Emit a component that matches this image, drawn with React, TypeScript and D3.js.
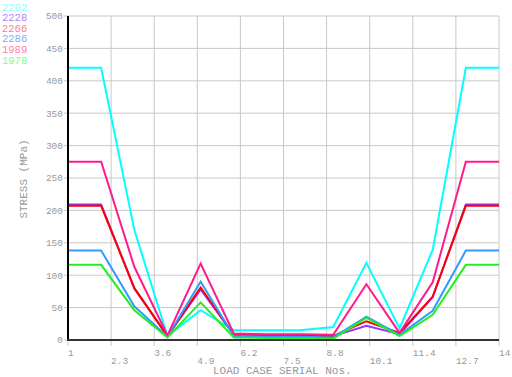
import React from "react";
import * as d3 from "d3";

const loadCases = [1, 2, 3, 4, 5, 6, 7, 8, 9, 10, 11, 12, 13, 14];
const xTicks = [1, 2.3, 3.6, 4.9, 6.2, 7.5, 8.8, 10.1, 11.4, 12.7, 14];
const yTicks = [0, 50, 100, 150, 200, 250, 300, 350, 400, 450, 500];

const s2202 = [420, 420, 170, 6, 46, 15, 15, 15, 20, 119, 18, 139, 420, 420];
const s2228 = [209, 209, 80, 6, 78, 8, 6, 6, 6, 22, 9, 66, 209, 209];
const s2266 = [207, 207, 80, 6, 81, 8, 6, 6, 6, 29, 11, 67, 207, 207];
const s2286 = [138, 138, 52, 5, 90, 6, 5, 5, 4, 36, 8, 45, 138, 138];
const s1989 = [275, 275, 113, 7, 118, 10, 9, 9, 8, 86, 11, 89, 275, 275];
const s1978 = [116, 116, 46, 4, 58, 4, 3, 3, 2, 34, 6, 39, 116, 116];

const seriesNames = ["2202", "2228", "2266", "2286", "1989", "1978"];
const seriesData = [s2202, s2228, s2266, s2286, s1989, s1978];
const lineColors = ["#00ffff", "#9933ff", "#ff0000", "#3399ff", "#ff1a8c", "#22ee22"];
const legendColors = ["#80ffff", "#b080ff", "#ff8080", "#80a8ff", "#ff80a8", "#80ff80"];
const drawOrder = [0, 1, 2, 3, 4, 5];

export default function App() {
  const W = 512, H = 377;
  const x = d3.scaleLinear().domain([1, 14]).range([68, 499]);
  const y = d3.scaleLinear().domain([0, 500]).range([340, 16]);
  const line = d3.line<number>().x((_, i) => x(loadCases[i])).y((d) => y(d));
  const mono = "'Liberation Mono', 'DejaVu Sans Mono', monospace";
  return (
    <svg width={W} height={H} style={{ position: "absolute", left: 0, top: 0 }}>
      <rect width={W} height={H} fill="#fff" />
      {yTicks.map((t) => (
        <line key={"gy" + t} x1={64} x2={499} y1={y(t)} y2={y(t)} stroke="#c8c8c8" strokeWidth={1} />
      ))}
      {xTicks.map((t) => (
        <line key={"gx" + t} x1={x(t)} x2={x(t)} y1={16} y2={346} stroke="#c8c8c8" strokeWidth={1} />
      ))}
      {yTicks.map((t) => (
        <text key={"ty" + t} x={63} y={y(t)} dy="0.35em" textAnchor="end" fontFamily={mono} fontSize={9.5} fill="#999">
          {t}
        </text>
      ))}
      {xTicks.map((t, i) => (
        <text key={"tx" + t} x={x(t)} y={i % 2 === 0 ? 353 : 361} dy="0.35em" textAnchor="start" fontFamily={mono} fontSize={9.5} fill="#999">
          {t}
        </text>
      ))}
      {drawOrder.map((k) => (
        <path key={"s" + k} d={line(seriesData[k]) || ""} fill="none" stroke={lineColors[k]} strokeWidth={2} />
      ))}
      <line x1={68} x2={68} y1={16} y2={341} stroke="#000" strokeWidth={2} />
      <line x1={67} x2={499} y1={340} y2={340} stroke="#333" strokeWidth={2} />
      <text x={213} y={370.5} dy="0.35em" fontFamily={mono} fontSize={11} fill="#999">LOAD CASE SERIAL Nos.</text>
      <text transform="translate(23,179) rotate(-90)" dy="0.35em" textAnchor="middle" fontFamily={mono} fontSize={11} fill="#999">
        STRESS (MPa)
      </text>
      {seriesNames.map((n, i) => (
        <text key={"l" + n} x={2} y={7 + i * 10.6} dy="0.35em" fontFamily={mono} fontSize={10.5} fill={legendColors[i]}>
          {n}
        </text>
      ))}
    </svg>
  );
}
